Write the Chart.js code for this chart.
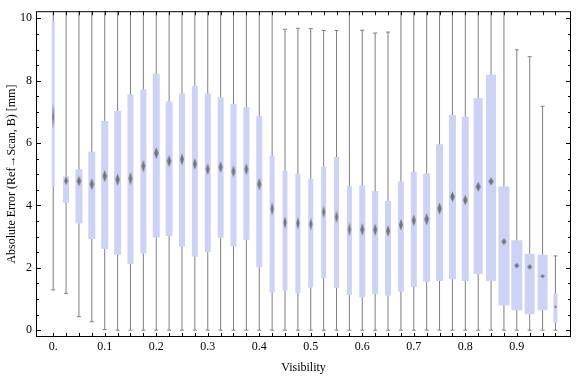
<!DOCTYPE html>
<html>
<head>
<meta charset="utf-8">
<script src="https://cdn.jsdelivr.net/npm/chart.js@4.4.1/dist/chart.umd.min.js"></script>
<style>
  html, body { margin: 0; padding: 0; background: #fff; }
</style>
</head>
<body>
<canvas id="chart" width="576" height="377"></canvas>
<script>
// visibility bins (x) and box-whisker statistics per bin (y, mm)
const visibility = [0, 0.025, 0.05, 0.075, 0.1, 0.125, 0.15, 0.175, 0.2, 0.225,
  0.25, 0.275, 0.3, 0.325, 0.35, 0.375, 0.4, 0.425, 0.45, 0.475,
  0.5, 0.525, 0.55, 0.575, 0.6, 0.625, 0.65, 0.675, 0.7, 0.725,
  0.75, 0.775, 0.8, 0.825, 0.85, 0.875, 0.9, 0.925, 0.95, 0.975];
const upperQuartile = [9.88, 4.93, 5.16, 5.72, 6.71, 7.03, 7.56, 7.72, 8.22, 7.33,
  7.59, 7.84, 7.59, 7.47, 7.25, 7.15, 6.87, 5.59, 5.11, 5.02,
  4.85, 5.24, 5.55, 4.62, 4.64, 4.46, 4.14, 4.77, 5.08, 5.02,
  5.96, 6.90, 6.84, 7.44, 8.19, 4.61, 2.88, 2.45, 2.42, 1.18];
const lowerQuartile = [4.62, 4.08, 3.42, 2.92, 2.60, 2.42, 2.12, 2.46, 2.97, 3.02,
  2.68, 2.35, 2.51, 2.96, 2.68, 2.90, 2.02, 1.21, 1.27, 1.19,
  1.37, 1.67, 1.35, 1.13, 1.05, 1.16, 1.10, 1.23, 1.38, 1.55,
  1.58, 1.63, 1.58, 1.80, 1.58, 0.79, 0.64, 0.51, 0.64, 0.23];
const median = [6.85, 4.79, 4.78, 4.68, 4.94, 4.83, 4.86, 5.26, 5.68, 5.42,
  5.48, 5.33, 5.16, 5.23, 5.09, 5.16, 4.68, 3.89, 3.45, 3.43,
  3.40, 3.79, 3.63, 3.23, 3.23, 3.22, 3.18, 3.38, 3.52, 3.56,
  3.90, 4.28, 4.17, 4.60, 4.77, 2.84, 2.07, 2.03, 1.73, 0.75];
const whiskerLow = [1.29, 1.18, 0.43, 0.27, 0.02, 0, 0, 0, 0, 0,
  0, 0, 0, 0, 0, 0, 0, 0, 0, 0,
  0, 0, 0, 0, 0, 0, 0, 0, 0, 0,
  0, 0, 0, 0, 0, 0, 0, 0, 0, 0];
// values above the plot range (cut off at the top) estimated as 10.5
const whiskerHigh = [10.5, 10.5, 10.5, 10.5, 10.5, 10.5, 10.5, 10.5, 10.5, 10.5,
  10.5, 10.5, 10.5, 10.5, 10.5, 10.5, 10.5, 10.5, 9.65, 9.68,
  9.67, 9.61, 9.61, 10.5, 9.62, 9.53, 9.56, 10.5, 10.5, 10.5,
  10.5, 10.5, 10.5, 10.5, 10.5, 10.5, 8.99, 8.77, 7.18, 2.38];
// half height of the median diamond (confidence spread), mm
const medianSpread = [0.42, 0.14, 0.17, 0.19, 0.19, 0.19, 0.22, 0.20, 0.19, 0.19,
  0.19, 0.19, 0.19, 0.19, 0.19, 0.19, 0.20, 0.22, 0.20, 0.20,
  0.20, 0.20, 0.20, 0.22, 0.20, 0.20, 0.19, 0.19, 0.19, 0.19,
  0.19, 0.17, 0.17, 0.16, 0.13, 0.11, 0.09, 0.09, 0.06, 0.05];

// box widths in px (vary with bin size in the original)
const boxWidths = [3, 6, 7, 7, 7, 7, 6, 6, 7, 7, 6, 6, 6, 6, 6, 6, 6, 5, 5, 5,
  5, 5, 5, 5, 6, 6, 6, 6, 6, 7, 7, 7, 7, 9, 10, 11, 11, 10, 10, 4];

const boxColor = 'rgb(204, 211, 245)';
const whiskerColor = '#7f7f7f';
const font = { family: 'Liberation Serif', size: 12 };

function diamondFor(c) {
  const yScale = c.chart.scales && c.chart.scales.y;
  if (c.type !== 'data' || !yScale) return 'rectRot';
  const i = c.dataIndex;
  const h = Math.abs(yScale.getPixelForValue(0) - yScale.getPixelForValue(medianSpread[i])) * 2;
  const w = Math.min(boxWidths[i] * 0.65, 5);
  const cv = document.createElement('canvas');
  cv.width = Math.ceil(w) + 2;
  cv.height = Math.ceil(h) + 2;
  const g = cv.getContext('2d');
  const cx = cv.width / 2, cy = cv.height / 2;
  g.fillStyle = 'rgba(100, 100, 100, 0.85)';
  g.beginPath();
  g.moveTo(cx, cy - h / 2);
  g.lineTo(cx + w / 2, cy);
  g.lineTo(cx, cy + h / 2);
  g.lineTo(cx - w / 2, cy);
  g.closePath();
  g.fill();
  return cv;
}

// Mathematica-like frame with inward ticks on all four sides
const frameTicks = {
  id: 'frameTicks',
  afterDatasetsDraw(chart) {
    const { ctx, chartArea: a, scales: { x, y } } = chart;
    ctx.save();
    ctx.strokeStyle = '#000';
    ctx.lineWidth = 1;
    ctx.beginPath();
    x.ticks.forEach(t => {
      const px = Math.round(x.getPixelForValue(t.value)) + 0.5;
      ctx.moveTo(px, a.bottom); ctx.lineTo(px, a.bottom - 4);
      ctx.moveTo(px, a.top); ctx.lineTo(px, a.top + 4);
    });
    y.ticks.forEach(t => {
      const len = t.value % 2 === 0 ? 5 : 3;
      const py = Math.round(y.getPixelForValue(t.value)) + 0.5;
      ctx.moveTo(a.left, py); ctx.lineTo(a.left + len, py);
      ctx.moveTo(a.right, py); ctx.lineTo(a.right - len, py);
    });
    ctx.stroke();
    ctx.strokeRect(a.left + 0.5, a.top + 0.5, a.right - a.left - 1, a.bottom - a.top - 1);
    ctx.restore();
  }
};

const whiskerData = visibility.flatMap((v, i) => [
  { x: v, y: whiskerLow[i] }, { x: v, y: whiskerHigh[i] }, { x: v, y: null }]);
const boxData = visibility.flatMap((v, i) => [
  { x: v, y: lowerQuartile[i] }, { x: v, y: upperQuartile[i] }, { x: v, y: null }]);
const medianData = visibility.map((v, i) => ({ x: v, y: median[i] }));

new Chart(document.getElementById('chart'), {
  type: 'scatter',
  data: {
    datasets: [
      {
        label: 'whiskers',
        data: whiskerData,
        showLine: true,
        spanGaps: false,
        borderColor: whiskerColor,
        borderWidth: 1,
        pointStyle: 'line',
        pointRadius: 2,
        pointBorderColor: whiskerColor,
        pointBackgroundColor: whiskerColor,
        pointBorderWidth: 1,
        order: 3
      },
      {
        label: 'boxes',
        data: boxData,
        showLine: true,
        spanGaps: false,
        borderColor: boxColor,
        borderWidth: 6,
        borderCapStyle: 'butt',
        segment: {
          borderWidth: c => boxWidths[Math.floor(c.p0DataIndex / 3)]
        },
        pointRadius: 0,
        order: 2
      },
      {
        label: 'median',
        data: medianData,
        showLine: false,
        pointStyle: diamondFor,
        pointRadius: 3,
        order: 1
      }
    ]
  },
  options: {
    responsive: false,
    animation: false,
    devicePixelRatio: 1,
    layout: { padding: { left: 0, top: 4, right: 2, bottom: 0 } },
    plugins: { legend: { display: false }, tooltip: { enabled: false } },
    scales: {
      x: {
        type: 'linear',
        position: 'bottom',
        min: -0.0334,
        max: 1.0052,
        afterBuildTicks: s => { s.ticks = visibility.map(v => ({ value: v })); },
        afterFit: s => { s.height = 40; },
        grid: { display: false, drawTicks: false },
        border: { display: false },
        ticks: {
          autoSkip: false,
          maxRotation: 0,
          minRotation: 0,
          padding: 3,
          color: '#000',
          font: font,
          callback: v => {
            const k = Math.round(v * 40);
            if (k % 4 !== 0) return '';
            return k === 0 ? '0.' : (k / 40).toFixed(1);
          }
        },
        title: {
          display: true,
          text: 'Visibility',
          color: '#000',
          font: font,
          padding: { top: 0, bottom: 2 }
        }
      },
      y: {
        type: 'linear',
        position: 'left',
        min: -0.22,
        max: 10.229,
        afterBuildTicks: s => {
          const t = [];
          for (let k = 0; k <= 20; k++) t.push({ value: k / 2 });
          s.ticks = t;
        },
        afterFit: s => { s.width = 36; },
        grid: { display: false, drawTicks: false },
        border: { display: false },
        ticks: {
          autoSkip: false,
          padding: 4,
          color: '#000',
          font: font,
          callback: v => (v % 2 === 0 ? String(v) : '')
        },
        title: {
          display: true,
          text: 'Absolute Error (Ref\u2192Scan, B) [mm]',
          color: '#000',
          font: font,
          padding: { top: 5, bottom: 0 }
        }
      }
    }
  },
  plugins: [frameTicks]
});
</script>
</body>
</html>
